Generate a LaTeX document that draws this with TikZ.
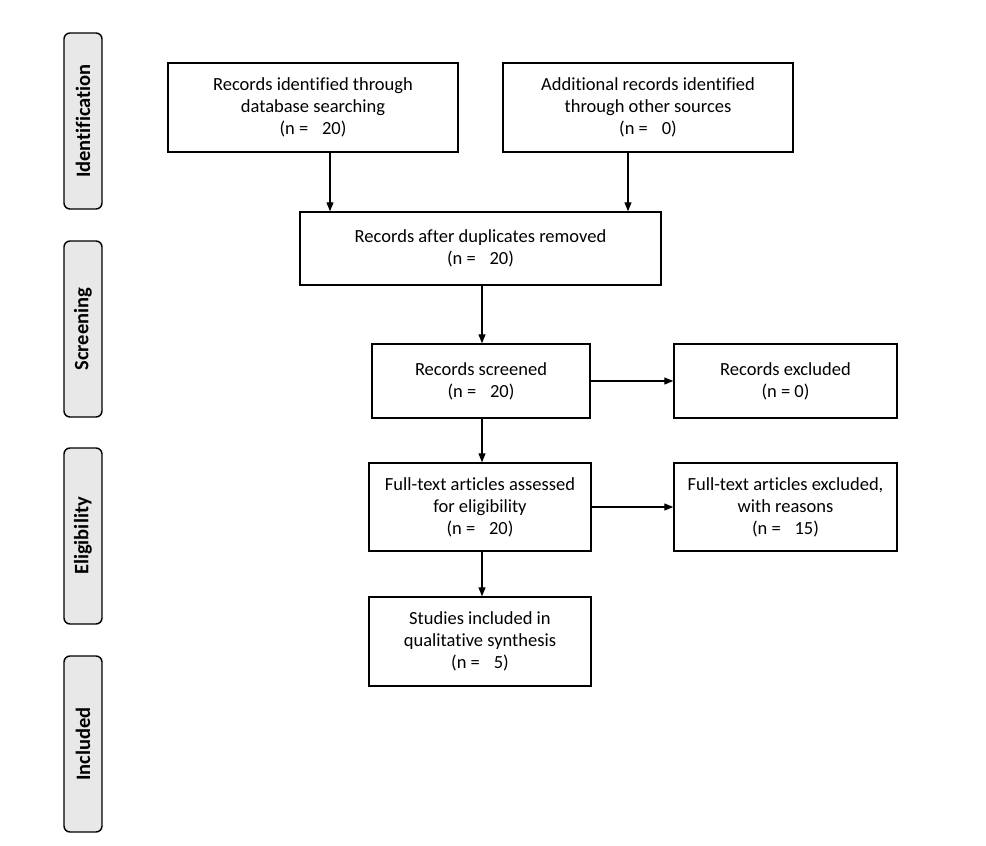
\documentclass[tikz,border=0pt]{standalone}
\usepackage{fontspec}
\setmainfont{Carlito}[Ligatures=NoCommon]
\usetikzlibrary{arrows.meta}
\begin{document}
\begin{tikzpicture}[x=1pt,y=-1pt,
  box/.style={draw=black,line width=1.4pt,fill=white,align=center,inner sep=0pt,
    font=\fontsize{18.5}{22}\selectfont},
  side/.style={draw=black,line width=1.4pt,fill=black!9,rounded corners=6pt,
    minimum width=38pt,minimum height=176pt,inner sep=0pt},
  sidetext/.style={rotate=90,font=\fontsize{20.5}{22}\selectfont\bfseries},
  arr/.style={line width=1.2pt,-{Triangle[length=9pt,width=7pt]}}]
\useasboundingbox (0,0) rectangle (986,846);
\fill[white] (0,0) rectangle (986,846);
% side labels
\node[side] (s1) at (83,121) {};
\node[sidetext] (t1) at (s1.center) {Identification};
\node[side] (s2) at (83,329) {};
\node[sidetext] (t2) at (s2.center) {Screening};
\node[side] (s3) at (83,536) {};
\node[sidetext] (t3) at (s3.center) {Eligibility};
\node[side] (s4) at (83,744) {};
\node[sidetext] (t4) at (s4.center) {Included};
% boxes
\node[box,minimum width=290pt,minimum height=89pt] (b1) at (313,107.5)
  {Records identified through\\database searching\\(n =\hspace{0.75em}20)};
\node[box,minimum width=290pt,minimum height=89pt] (b2) at (648,107.5)
  {Additional records identified\\through other sources\\(n =\hspace{0.75em}0)};
\node[box,minimum width=361pt,minimum height=73pt] (b3) at (480.5,248.5)
  {Records after duplicates removed\\(n =\hspace{0.75em}20)};
\node[box,minimum width=218pt,minimum height=74pt] (b4) at (481,381)
  {Records screened\\(n =\hspace{0.75em}20)};
\node[box,minimum width=223pt,minimum height=74pt] (b5) at (785.5,381)
  {Records excluded\\(n = 0)};
\node[box,minimum width=222pt,minimum height=88pt] (b6) at (480,507)
  {Full-text articles assessed\\for eligibility\\(n =\hspace{0.75em}20)};
\node[box,minimum width=223pt,minimum height=88pt] (b7) at (785.5,507)
  {Full-text articles excluded,\\with reasons\\(n =\hspace{0.75em}15)};
\node[box,minimum width=222pt,minimum height=89pt] (b8) at (480,641.5)
  {Studies included in\\qualitative synthesis\\(n =\hspace{0.75em}5)};
% arrows
\draw[arr] ([xshift=17pt]b1.south) -- ([xshift=17pt]b1.south |- b3.north);
\draw[arr] ([xshift=-20pt]b2.south) -- ([xshift=-20pt]b2.south |- b3.north);
\draw[arr] ([xshift=1.5pt]b3.south) -- ([xshift=1.5pt]b3.south |- b4.north);
\draw[arr] ([xshift=1pt]b4.south) -- ([xshift=1pt]b4.south |- b6.north);
\draw[arr] (b4.east) -- (b5.west);
\draw[arr] ([xshift=2pt]b6.south) -- ([xshift=2pt]b6.south |- b8.north);
\draw[arr] (b6.east) -- (b7.west);
\end{tikzpicture}
\end{document}
